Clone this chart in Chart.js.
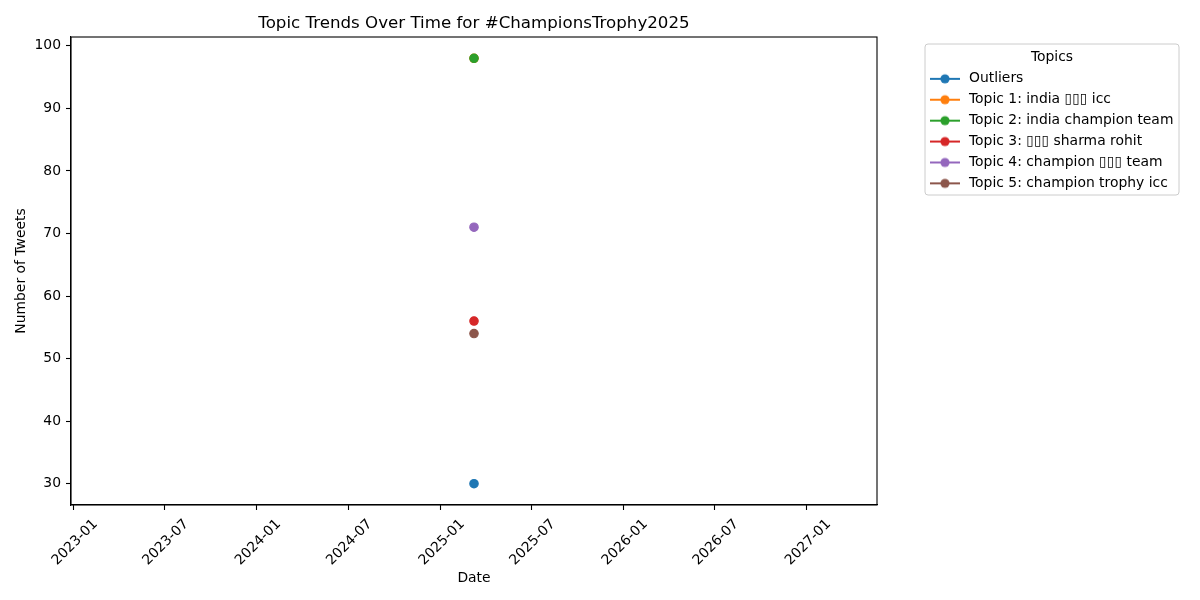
<!DOCTYPE html>
<html>
<head>
<meta charset="utf-8">
<script src="https://cdn.jsdelivr.net/npm/chart.js@4/dist/chart.umd.min.js"></script>
<style>html,body{margin:0;padding:0;background:#fff;}canvas{display:block;}</style>
</head>
<body>
<canvas id="c" width="1200" height="600"></canvas>
<script>
// ---- data ----
const dates = ['2025-03-09'];
const seriesNames = [
  'Outliers',
  'Topic 1: india \u25AF\u25AF\u25AF icc',
  'Topic 2: india champion team',
  'Topic 3: \u25AF\u25AF\u25AF sharma rohit',
  'Topic 4: champion \u25AF\u25AF\u25AF team',
  'Topic 5: champion trophy icc'
];
const outliers = [30];
const topic1 = [98];
const topic2 = [98];
const topic3 = [56];
const topic4 = [71];
const topic5 = [54];
const xTickLabels = ['2023-01','2023-07','2024-01','2024-07','2025-01','2025-07','2026-01','2026-07','2027-01'];
const yTickValues = [30, 40, 50, 60, 70, 80, 90, 100];

// ---- styling ----
const seriesColors = ['#1f77b4','#ff7f0e','#2ca02c','#d62728','#9467bd','#8c564b'];
const FONT = 'DejaVu Sans';
const toMs = s => Date.parse(s.length === 7 ? s + '-01T00:00:00Z' : s + 'T00:00:00Z');
const seriesValues = [outliers, topic1, topic2, topic3, topic4, topic5];

function markerCanvas(color) {
  const c = document.createElement('canvas');
  c.width = 30; c.height = 12;
  const g = c.getContext('2d');
  g.strokeStyle = color; g.lineWidth = 2;
  g.beginPath(); g.moveTo(0, 6); g.lineTo(30, 6); g.stroke();
  g.fillStyle = color;
  g.beginPath(); g.arc(15, 6, 4.6, 0, Math.PI * 2); g.fill();
  return c;
}
const markers = seriesColors.map(markerCanvas);

Chart.defaults.font.family = FONT;
Chart.defaults.color = '#000';

const datasets = seriesNames.map((name, i) => ({
  label: name,
  data: seriesValues[i].map((v, j) => ({x: toMs(dates[j]), y: v})),
  borderColor: seriesColors[i],
  backgroundColor: seriesColors[i],
  borderWidth: 2,
  pointRadius: 4.2,
  pointBorderWidth: 1.2,
  pointHoverRadius: 4.2,
  showLine: true,
  order: seriesNames.length - i,
  clip: false
}));

const framePlugin = {
  id: 'frame',
  afterInit(chart) {
    const lg = chart.legend;
    const protoFit = Object.getPrototypeOf(lg).fit;
    lg.fit = function () { protoFit.call(this); this.width = 323; };
  },
  afterLayout(chart) {
    const lg = chart.legend;
    lg.left = 921; lg.width = 262; lg.right = lg.left + lg.width;
    lg.top = 44; lg.bottom = 600; lg.height = 556;
  },
  beforeDraw(chart) {
    const ctx = chart.ctx;
    ctx.save();
    ctx.fillStyle = '#fff';
    ctx.fillRect(0, 0, chart.width, chart.height);
    const x = 925, y = 44, w = 254, h = 151, r = 3;
    ctx.beginPath();
    ctx.moveTo(x + r, y); ctx.lineTo(x + w - r, y); ctx.quadraticCurveTo(x + w, y, x + w, y + r);
    ctx.lineTo(x + w, y + h - r); ctx.quadraticCurveTo(x + w, y + h, x + w - r, y + h);
    ctx.lineTo(x + r, y + h); ctx.quadraticCurveTo(x, y + h, x, y + h - r);
    ctx.lineTo(x, y + r); ctx.quadraticCurveTo(x, y, x + r, y); ctx.closePath();
    ctx.fillStyle = 'rgba(255,255,255,0.8)'; ctx.fill();
    ctx.strokeStyle = '#cccccc'; ctx.lineWidth = 1; ctx.stroke();
    ctx.restore();
  },
  afterDraw(chart) {
    const a = chart.chartArea, ctx = chart.ctx;
    ctx.save();
    ctx.strokeStyle = '#000'; ctx.lineWidth = 1.1;
    ctx.strokeRect(a.left, a.top, a.right - a.left, a.bottom - a.top);
    ctx.restore();
  }
};

new Chart(document.getElementById('c'), {
  type: 'line',
  data: { datasets },
  options: {
    responsive: false,
    animation: false,
    devicePixelRatio: 1,
    layout: { padding: { left: 0, right: 0, top: 0, bottom: 0 } },
    plugins: {
      tooltip: { enabled: false },
      title: {
        display: true,
        fullSize: false,
        text: 'Topic Trends Over Time for #ChampionsTrophy2025',
        font: { family: FONT, size: 16.67, weight: 'normal', lineHeight: 1.2 },
        color: '#000',
        padding: { top: 14, bottom: 3 }
      },
      legend: {
        display: true,
        position: 'right',
        align: 'start',
        title: {
          display: true,
          text: 'Topics',
          color: '#000',
          font: { family: FONT, size: 13.9, lineHeight: 1 },
          padding: { top: 6, bottom: 1 }
        },
        labels: {
          color: '#000',
          font: { family: FONT, size: 13.9 },
          usePointStyle: true,
          pointStyleWidth: 34,
          padding: 7,
          generateLabels(chart) {
            const items = Chart.defaults.plugins.legend.labels.generateLabels(chart);
            items.forEach(it => { it.pointStyle = markers[it.datasetIndex]; it.lineWidth = 0; });
            return items;
          },
          sort: (a, b) => a.datasetIndex - b.datasetIndex
        }
      }
    },
    scales: {
      x: {
        type: 'linear',
        min: toMs('2022-12-27'),
        max: toMs('2027-05-21'),
        afterBuildTicks(scale) { scale.ticks = xTickLabels.map(l => ({ value: toMs(l) })); },
        afterFit(scale) { scale.height = 95; },
        ticks: {
          autoSkip: false,
          minRotation: 45,
          maxRotation: 45,
          labelOffset: 22,
          padding: 6,
          font: { family: FONT, size: 13.9 },
          color: '#000',
          callback: (v, i) => xTickLabels[i]
        },
        grid: { drawOnChartArea: false, drawTicks: true, tickLength: 5, color: '#000', tickWidth: 1.1 },
        border: { display: true, color: '#000', width: 1.1 },
        title: {
          display: true, text: 'Date', color: '#000',
          font: { family: FONT, size: 13.9, lineHeight: 1 },
          padding: { top: 0, bottom: 15 }
        }
      },
      y: {
        type: 'linear',
        min: 26.6,
        max: 101.4,
        afterBuildTicks(scale) { scale.ticks = yTickValues.map(v => ({ value: v })); },
        afterFit(scale) { scale.width = 71; },
        ticks: {
          padding: 5,
          font: { family: FONT, size: 13.9 },
          color: '#000'
        },
        grid: { drawOnChartArea: false, drawTicks: true, tickLength: 5, color: '#000', tickWidth: 1.1 },
        border: { display: true, color: '#000', width: 1.1 },
        title: {
          display: true, text: 'Number of Tweets', color: '#000',
          font: { family: FONT, size: 13.9, lineHeight: 1 },
          padding: { top: 14, bottom: 0 }
        }
      }
    }
  },
  plugins: [framePlugin]
});
</script>
</body>
</html>
